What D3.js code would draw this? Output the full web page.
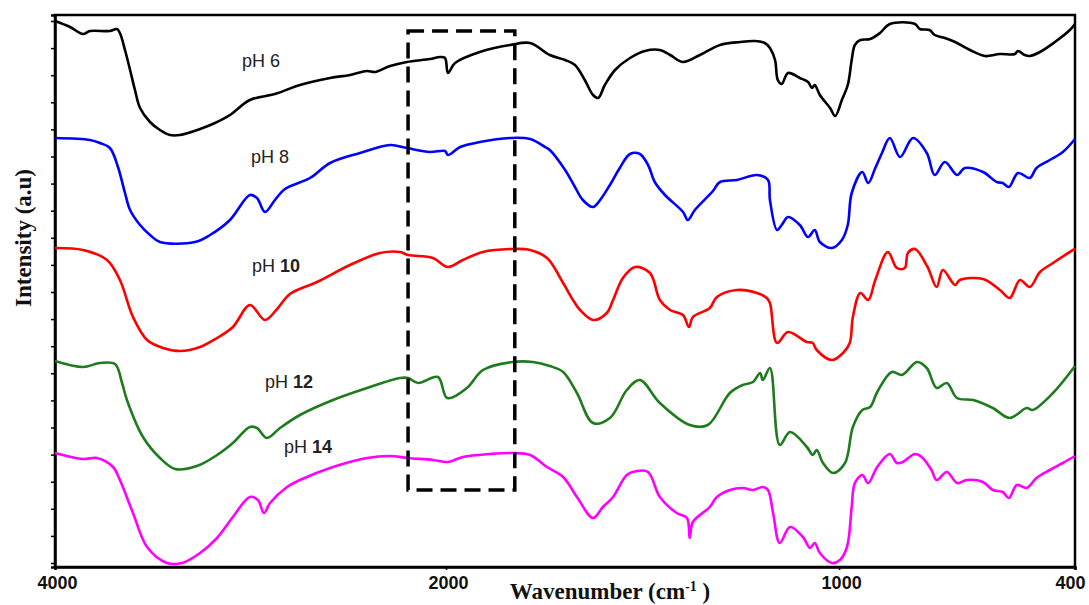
<!DOCTYPE html>
<html>
<head>
<meta charset="utf-8">
<script src="https://cdnjs.cloudflare.com/ajax/libs/d3/7.8.5/d3.min.js"></script>
<style>
  body { margin: 0; background: #fff; }
  .axis-title { font-family: 'Liberation Serif', 'Times New Roman', serif; font-weight: bold; font-size: 23px; fill: #111; }
  .tick-label { font-family: 'Liberation Sans', Arial, sans-serif; font-weight: bold; font-size: 18px; fill: #111; }
  .ph { font-family: 'Liberation Sans', Arial, sans-serif; font-size: 18px; fill: #222; }
</style>
</head>
<body>
<div id="root"></div>
<script>
// FTIR spectra, [wavenumber cm-1, intensity a.u.]
const ph6 = [[4000,109.2],[3923,108],[3857,106.6],[3821,107.2],[3719,107.2],[3683,107.6],[3668,106.8],[3642,103.4],[3616,99.4],[3591,95.4],[3565,91.8],[3514,89],[3463,87.4],[3412,86.4],[3361,86.4],[3258,87.6],[3182,88.8],[3105,90.4],[3003,93.4],[2875,94.6],[2747,96.4],[2593,97.8],[2491,98.4],[2404,99.2],[2363,99],[2286,100.2],[2200,101],[2082,101.6],[2031,102],[2005,101.8],[1995,98.8],[1977,100.8],[1914,103],[1837,104.4],[1786,104.8],[1736,102.4],[1697,101.4],[1672,100.4],[1647,97.4],[1626,94.4],[1613,93.8],[1596,96.4],[1570,99.4],[1532,101.8],[1494,103.2],[1456,103.4],[1430,102.4],[1397,101],[1354,102.4],[1303,104.4],[1252,105],[1214,105.2],[1189,104.8],[1176,103.8],[1163,101.4],[1156,97.4],[1146,96.6],[1130,98.8],[1100,97.8],[1079,97],[1069,95.8],[1062,96.4],[1049,94.4],[1023,91.8],[1010,90.2],[993,93.4],[978,96.4],[968,101.4],[960,104.4],[946,105.4],[921,105.6],[896,106.8],[871,108.6],[807,108.6],[795,107.6],[770,107.4],[757,106.4],[731,105.8],[705,105],[667,103.4],[629,102.2],[591,102.6],[553,102.6],[545,103.2],[528,102.4],[515,102.2],[489,103],[451,105],[413,107.4],[400,108.6]];

const ph8 = [[4000,85.8],[3821,85.4],[3770,84.8],[3719,83.8],[3678,80],[3642,74.8],[3616,71.4],[3565,68.4],[3514,66.4],[3463,65],[3284,65],[3207,66.4],[3105,69.4],[3003,74.4],[2967,73.8],[2926,71],[2875,73.4],[2824,75.6],[2696,77.8],[2593,80.8],[2440,82.8],[2286,84.4],[2200,83.8],[2082,83],[2005,83.2],[1995,82.4],[1964,84],[1914,85],[1837,85.8],[1786,85.6],[1748,84],[1736,83.4],[1697,79.4],[1672,76],[1652,73.4],[1626,72],[1608,73.4],[1583,76.4],[1558,79.8],[1532,82.6],[1507,82.6],[1486,80.4],[1469,77],[1443,74.4],[1397,71],[1385,69.4],[1367,71.4],[1321,75.2],[1303,77],[1260,77.4],[1209,78.4],[1181,77.4],[1176,73.4],[1158,67.4],[1146,68.4],[1130,70],[1100,68.4],[1079,66],[1062,67.4],[1049,65],[1018,63.8],[993,65.4],[978,68.4],[968,74.8],[941,79],[926,76.8],[908,79.8],[891,82.8],[871,85.8],[845,82],[812,85.8],[777,82.8],[757,78.4],[731,81],[700,78.4],[680,79.8],[634,79],[599,77],[584,76.8],[568,76],[545,78.8],[515,77.8],[498,79.8],[464,81.4],[431,83],[400,85.6]];

const ph10 = [[4000,63.8],[3857,63.4],[3734,61.4],[3668,57.4],[3601,50],[3529,45.4],[3448,43.8],[3361,43.2],[3258,44],[3171,45.8],[3090,48],[3003,52.4],[2926,49.4],[2864,51.6],[2798,54.6],[2660,57],[2491,60.4],[2338,62.8],[2235,63],[2194,62.4],[2067,61.8],[1995,60],[1957,61.4],[1906,63],[1830,63.6],[1786,63.4],[1743,61.8],[1702,56.8],[1677,53.4],[1659,51.4],[1626,49.4],[1591,50.8],[1575,53.4],[1550,57.8],[1519,60],[1481,58.8],[1456,53.4],[1430,51.4],[1397,50.4],[1382,48],[1372,50],[1329,51.8],[1311,54],[1260,55.4],[1209,54.8],[1184,53.8],[1176,52.8],[1158,44.8],[1130,47],[1082,45],[1067,44.8],[1057,43.4],[1018,41.4],[990,42.8],[973,44.8],[965,50],[946,54.8],[926,53.4],[908,57.4],[876,63],[853,59.8],[833,59.8],[825,62.8],[807,63.6],[775,60],[752,56],[736,59.4],[705,56.4],[693,57.4],[634,57.6],[591,55.4],[566,53.8],[540,57.4],[515,56],[489,59],[456,60.8],[405,63.4],[400,63.6]];

const ph12 = [[4000,41.2],[3857,40],[3770,40.8],[3693,40.6],[3657,36.8],[3632,33.4],[3550,26],[3463,21.8],[3386,19.6],[3274,20.2],[3171,22.4],[3090,24.8],[3003,28],[2967,27.8],[2916,25.8],[2849,27.8],[2747,30.4],[2578,33.4],[2404,35.8],[2235,37.8],[2194,37.8],[2143,36.8],[2041,38],[1997,33.8],[1947,35.8],[1906,39.4],[1830,41],[1779,41],[1736,40.2],[1702,39],[1667,34.8],[1626,28.8],[1583,29.8],[1540,35.4],[1507,37.4],[1456,32.8],[1380,28.4],[1334,28.4],[1278,34.8],[1245,36.4],[1219,37],[1201,38.8],[1194,37.4],[1176,39.8],[1151,24.4],[1125,27],[1082,24],[1067,22.4],[1057,23.4],[1041,20.8],[1015,18.8],[985,20.8],[965,28],[941,31.4],[921,32],[903,35],[866,39],[840,38.4],[802,41],[777,39.8],[752,35.8],[726,36.8],[700,33.8],[659,33.4],[609,31.8],[566,29.8],[523,31.8],[508,31.4],[456,34.8],[400,40.2]];

const ph14 = [[4000,22.8],[3857,21.6],[3785,21.8],[3703,20],[3668,17.4],[3601,10.8],[3529,4],[3427,0.8],[3350,0.8],[3258,2.8],[3171,5.8],[3090,10],[3003,14],[2962,13.4],[2931,10.8],[2900,12.8],[2813,16],[2747,17.4],[2578,20],[2404,21.8],[2286,22.2],[2194,21.8],[2067,21.4],[1995,21],[1957,22],[1888,22.6],[1830,22.8],[1786,22.4],[1743,20],[1702,18],[1667,14],[1626,9.8],[1601,12],[1575,14],[1540,18.4],[1514,19.2],[1486,19],[1456,14],[1413,10.8],[1387,9.8],[1380,5.8],[1372,9],[1329,12],[1311,14],[1278,15.4],[1245,15.8],[1219,15.4],[1194,16],[1181,15.4],[1168,10.8],[1151,4.8],[1125,8],[1092,6],[1074,3.8],[1062,4.8],[1049,2.8],[1018,0.8],[998,1.4],[980,4],[968,12],[960,16.8],[941,18.4],[926,16.8],[903,20],[871,22.6],[853,20.8],[838,21],[807,22.6],[790,22],[765,19.4],[752,17.4],[726,19],[700,16.8],[675,17.4],[634,17],[609,15.4],[584,15],[568,13.8],[548,16.4],[523,15.8],[498,17.8],[464,19.4],[431,20.8],[400,22.2]];

const seriesNames = ['pH 6', 'pH 8', 'pH 10', 'pH 12', 'pH 14'];
const seriesData = [ph6, ph8, ph10, ph12, ph14];
const colors = ['#000000', '#0000ff', '#ff0000', '#1e7b1e', '#ff00ff'];
// label anchor [wavenumber, intensity]
const labelAt = [[3043,100],[2997,80.8],[2992,59],[2926,35.8],[2829,22.8]];
const xTicks = [4000, 2000, 1000, 400];
// dashed highlight region
const boxWn = [2194, 1825];
const boxInt = [15.4, 107.2];

const W = 1089, H = 605;
const svg = d3.select('#root').append('svg').attr('width', W).attr('height', H);

// broken scale: 4000-2000 compressed
const x = d3.scaleLinear().domain([4000, 2000, 400]).range([55, 446, 1075]);
const y = d3.scaleLinear().domain([0, 110.4]).range([567, 15]);

// frame
svg.append('rect')
  .attr('x', x(4000)).attr('y', y(110.4))
  .attr('width', x(400) - x(4000)).attr('height', y(0) - y(110.4))
  .attr('fill', 'none').attr('stroke', '#000').attr('stroke-width', 2.5);

// y axis minor ticks, no labels
const yTickVals = d3.range(21).map(i => 0.8 + 5.42 * i);
const yAxis = svg.append('g').attr('transform', `translate(${x(4000)},0)`)
  .call(d3.axisLeft(y).tickValues(yTickVals).tickSize(4).tickFormat(''));
yAxis.select('.domain').attr('stroke-width', 2.5);
yAxis.selectAll('.tick line').attr('stroke-width', 1.5);

// x axis
const xAxis = svg.append('g').attr('transform', `translate(0,${y(0)})`)
  .call(d3.axisBottom(x).tickValues(xTicks).tickSize(3).tickPadding(6).tickFormat(d3.format('d')));
xAxis.select('.domain').attr('stroke-width', 2.5);
xAxis.selectAll('.tick line').attr('stroke-width', 1.5);
xAxis.selectAll('.tick text').attr('class', 'tick-label').attr('font-size', null).attr('font-family', null)
  .attr('dx', d => d === 400 ? -5 : 2);

// axis titles
const xt = svg.append('text').attr('class', 'axis-title')
  .attr('x', 610).attr('y', 599).attr('text-anchor', 'middle');
xt.append('tspan').text('Wavenumber (cm');
xt.append('tspan').attr('dy', -8).attr('font-size', 14).text('-1');
xt.append('tspan').attr('dy', 8).text(' )');

svg.append('text').attr('class', 'axis-title')
  .attr('transform', 'translate(31,238) rotate(-90)')
  .attr('text-anchor', 'middle').text('Intensity (a.u)');

// spectra
const line = d3.line().x(d => x(d[0])).y(d => y(d[1])).curve(d3.curveCatmullRom.alpha(0.5));
svg.selectAll('path.spec').data(seriesData).enter().append('path')
  .attr('class', 'spec')
  .attr('d', line)
  .attr('fill', 'none')
  .attr('stroke', (d, i) => colors[i])
  .attr('stroke-width', 2.6)
  .attr('stroke-linejoin', 'round');

// labels
seriesNames.forEach((name, i) => {
  const parts = name.split(' ');
  const t = svg.append('text').attr('class', 'ph')
    .attr('x', x(labelAt[i][0])).attr('y', y(labelAt[i][1]));
  t.append('tspan').text(parts[0] + ' ');
  t.append('tspan').attr('font-weight', parts[1].length > 1 ? 'bold' : 'normal').text(parts[1]);
});

// dashed box
svg.append('rect')
  .attr('x', x(boxWn[0])).attr('y', y(boxInt[1]))
  .attr('width', x(boxWn[1]) - x(boxWn[0]))
  .attr('height', y(boxInt[0]) - y(boxInt[1]))
  .attr('fill', 'none').attr('stroke', '#000')
  .attr('stroke-width', 3.5).attr('stroke-dasharray', '16,8');
</script>
</body>
</html>
